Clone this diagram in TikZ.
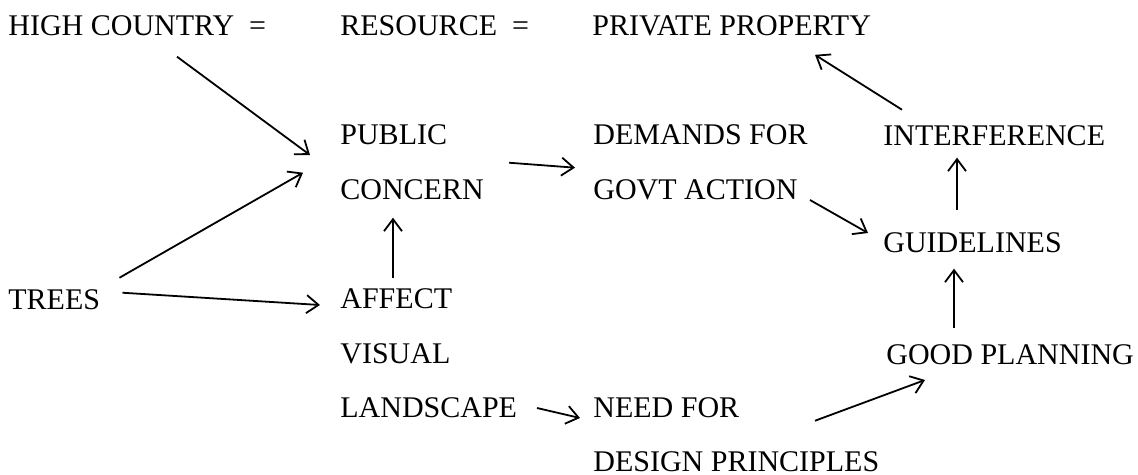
\documentclass[tikz,border=0pt]{standalone}
\usepackage{fontspec}
\setmainfont{Liberation Serif}
\usetikzlibrary{arrows.meta,calc}

\begin{document}
\begin{tikzpicture}[
  x=0.5pt, y=-0.5pt,
  term/.style={anchor=base west, inner sep=0pt, font=\fontsize{15}{18}\selectfont},
  link/.style={-{Straight Barb[length=6pt,width=9pt,line width=0.9pt]}, line width=0.9pt},
]
  \useasboundingbox (0,0) rectangle (1138,475);

  % top row
  \node[term] (hc)   at (8,36)   {HIGH COUNTRY\ \ =};
  \node[term] (res)  at (340,36) {RESOURCE\ \ =};
  \node[term] (priv) at (592,36) {PRIVATE PROPERTY};

  % left column
  \node[term] (pub)    at (340,145) {PUBLIC};
  \node[term] (con)    at (340,200) {CONCERN};
  \node[term] (trees)  at (8,309)   {TREES};
  \node[term] (aff)    at (340,308) {AFFECT};
  \node[term] (vis)    at (340,363) {VISUAL};
  \node[term] (land)   at (340,417) {LANDSCAPE};

  % middle column
  \node[term] (dem)    at (593,145) {DEMANDS FOR};
  \node[term] (govt)   at (593,200) {GOVT ACTION};
  \node[term] (need)   at (593,417) {NEED FOR};
  \node[term] (design) at (593,471) {DESIGN PRINCIPLES};

  % right column
  \node[term] (intf)  at (883,146) {INTERFERENCE};
  \node[term] (guide) at (883,253) {GUIDELINES};
  \node[term] (good)  at (886,364) {GOOD PLANNING};

  \draw[link] ($(hc.south west)+(169,20)$) -- ($(pub.base west)+(-30,10)$);
  \draw[link] ($(trees.north east)+(19,-11)$) -- ($(pub.south west)+(-37,27)$);
  \draw[link] ($(trees.north east)+(22,4)$) -- ($(aff.base west)+(-20,-3)$);
  \draw[link] ($(aff.north west)+(53,-10)$) -- ($(con.south west)+(53,17)$);
  \draw[link] ($(con.north east)+(25,-17)$) -- ($(dem.south west)+(-18,22)$);
  \draw[link] ($(govt.base west)+(217,0)$) -- ($(guide.base west)+(-15,-20)$);
  \draw[link] ($(guide.north west)+(74,-23)$) -- ($(intf.south west)+(74,11)$);
  \draw[link] ($(good.north west)+(68,-16)$) -- ($(guide.south west)+(71,15)$);
  \draw[link] ($(intf.north west)+(19,-16)$) -- ($(priv.south west)+(223,18)$);
  \draw[link] ($(land.base west)+(197,-9)$) -- ($(need.base west)+(-13,1)$);
  \draw[link] ($(design.north west)+(222,-30)$) -- ($(good.base west)+(39,16)$);
\end{tikzpicture}
\end{document}
